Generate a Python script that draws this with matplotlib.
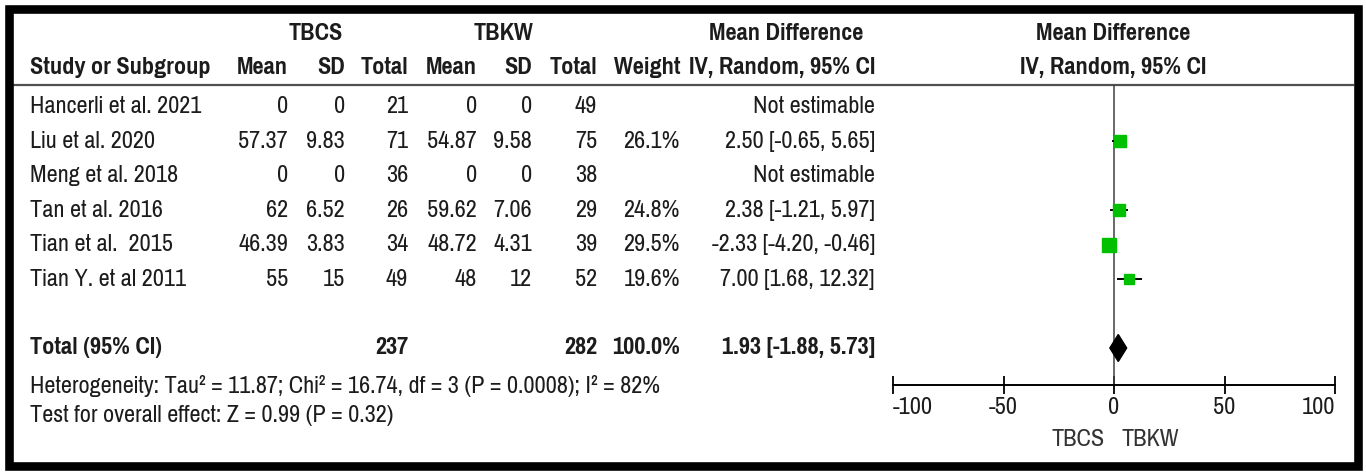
import numpy as np
import matplotlib
matplotlib.use('Agg')
import matplotlib.pyplot as plt
from matplotlib.patches import Rectangle, Polygon

# study level data
studies = ['Hancerli et al. 2021', 'Liu et al. 2020', 'Meng et al. 2018',
           'Tan et al. 2016', 'Tian et al.  2015', 'Tian Y. et al 2011']
tbcs_mean = [0, 57.37, 0, 62, 46.39, 55]
tbcs_sd = [0, 9.83, 0, 6.52, 3.83, 15]
tbcs_n = [21, 71, 36, 26, 34, 49]
tbkw_mean = [0, 54.87, 0, 59.62, 48.72, 48]
tbkw_sd = [0, 9.58, 0, 7.06, 4.31, 12]
tbkw_n = [49, 75, 38, 29, 39, 52]
weight = [np.nan, 26.1, np.nan, 24.8, 29.5, 19.6]
md = [np.nan, 2.50, np.nan, 2.38, -2.33, 7.00]
ci_lo = [np.nan, -0.65, np.nan, -1.21, -4.20, 1.68]
ci_hi = [np.nan, 5.65, np.nan, 5.97, -0.46, 12.32]

# pooled result
total_n = [237, 282]
total_weight = 100.0
total_md, total_lo, total_hi = 1.93, -1.88, 5.73
het_text = 'Heterogeneity: Tau² = 11.87; Chi² = 16.74, df = 3 (P = 0.0008); I² = 82%'
effect_text = 'Test for overall effect: Z = 0.99 (P = 0.32)'
xticks = [-100, -50, 0, 50, 100]

W, H = 1366, 475
FONT = ['Pragati Narrow', 'Roboto Condensed', 'DejaVu Sans']
FS = 19
TXT = '#1c1c1c'
GREEN = '#00c000'

fig = plt.figure(figsize=(W / 100, H / 100), dpi=100)
bg = fig.add_axes([0, 0, 1, 1])
bg.set_xlim(0, W)
bg.set_ylim(H, 0)
bg.axis('off')

def put(x, y, s, ha='right', bold=False, size=FS, color=TXT):
    bg.text(x, y, s, ha=ha, va='center', fontsize=size, family=FONT,
            fontweight='bold' if bold else 'normal', color=color)

# frame and header rule
bg.add_patch(Rectangle((9, 9), 1348.5, 456.5, fill=False, lw=6.2,
                       ec='black', joinstyle='miter', zorder=5))
bg.plot([13, 1353], [85, 85], color='#505050', lw=1.6)

# column right edges
cols = [288, 345, 408, 477, 532, 597, 680, 875]
hdr1, hdr2 = 33, 67
put(316, hdr1, 'TBCS', ha='center', bold=True)
put(504, hdr1, 'TBKW', ha='center', bold=True)
put(786, hdr1, 'Mean Difference', ha='center', bold=True)
put(1113, hdr1, 'Mean Difference', ha='center', bold=True)
put(30, hdr2, 'Study or Subgroup', ha='left', bold=True)
for x, s in zip(cols, ['Mean', 'SD', 'Total', 'Mean', 'SD', 'Total',
                       'Weight', 'IV, Random, 95% CI']):
    put(x, hdr2, s, bold=True)
put(1113, hdr2, 'IV, Random, 95% CI', ha='center', bold=True)

row_y = 106.5 + 34.6 * np.arange(len(studies))
total_y = 348
for i, y in enumerate(row_y):
    put(30, y, studies[i], ha='left')
    vals = [tbcs_mean[i], tbcs_sd[i], tbcs_n[i], tbkw_mean[i], tbkw_sd[i], tbkw_n[i]]
    for x, v in zip(cols[:6], vals):
        put(x, y, '{:g}'.format(v))
    if np.isnan(weight[i]):
        put(cols[7], y, 'Not estimable')
    else:
        put(cols[6], y, '{:.1f}%'.format(weight[i]))
        put(cols[7], y, '{:.2f} [{:.2f}, {:.2f}]'.format(md[i], ci_lo[i], ci_hi[i]))

put(30, total_y, 'Total (95% CI)', ha='left', bold=True)
put(cols[2], total_y, str(total_n[0]), bold=True)
put(cols[5], total_y, str(total_n[1]), bold=True)
put(cols[6], total_y, '{:.1f}%'.format(total_weight), bold=True)
put(cols[7], total_y, '{:.2f} [{:.2f}, {:.2f}]'.format(total_md, total_lo, total_hi), bold=True)
put(30, 386, het_text, ha='left')
put(30, 416, effect_text, ha='left')

# forest plot panel
ax = fig.add_axes([893 / W, (H - 385) / H, (1335 - 893) / W, (385 - 85) / H])
ax.set_xlim(-100, 100)
ax.set_ylim(385, 85)
ax.patch.set_alpha(0)
for s in ['top', 'left', 'right']:
    ax.spines[s].set_visible(False)
ax.spines['bottom'].set_linewidth(1.4)
ax.axvline(0, color='#404040', lw=1.1)
ax.set_yticks([])
ax.set_xticks(xticks)
ax.set_xticklabels([str(t) for t in xticks], family=FONT, fontsize=FS, color=TXT)
ax.tick_params(axis='x', direction='inout', length=13, width=1.3, pad=2)
# keep the end labels inside the axis span
labels = ax.get_xticklabels()
labels[0].set_ha('left')
labels[-1].set_ha('right')

for i, y in enumerate(row_y):
    if np.isnan(weight[i]):
        continue
    ax.plot([ci_lo[i], ci_hi[i]], [y, y], color='black', lw=1.4, zorder=3)
    ax.plot(md[i], y, marker='s', ms=weight[i] * 0.47 * 0.72,
            color=GREEN, mec=GREEN, zorder=4)

half = 13.5
ax.add_patch(Polygon([(total_lo, total_y), (total_md, total_y - half),
                      (total_hi, total_y), (total_md, total_y + half)],
                     closed=True, fc='black', ec='black', zorder=4))

put(1105, 440, 'TBCS', color='#333333')
put(1122, 440, 'TBKW', ha='left', color='#333333')

fig.savefig('out.png', dpi=100)
